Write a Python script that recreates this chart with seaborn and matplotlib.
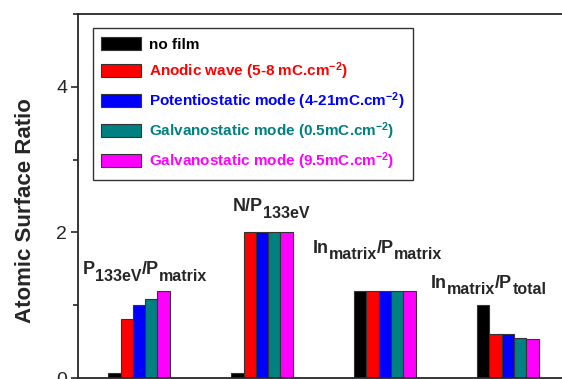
import pandas as pd
import numpy as np
import matplotlib.pyplot as plt
import seaborn as sns
from matplotlib.ticker import MultipleLocator

# ratios (x groups)
ratios = ['P133eV/Pmatrix', 'N/P133eV', 'Inmatrix/Pmatrix', 'Inmatrix/Ptotal']
# each label split into (text, is_subscript) pieces
ratio_pieces = [
    [('P', 0), ('133eV', 1), ('/P', 0), ('matrix', 1)],
    [('N/P', 0), ('133eV', 1)],
    [('In', 0), ('matrix', 1), ('/P', 0), ('matrix', 1)],
    [('In', 0), ('matrix', 1), ('/P', 0), ('total', 1)],
]

# film conditions (hue)
films = ['no film',
         'Anodic wave (5-8 mC.cm$^{-2}$)',
         'Potentiostatic mode (4-21mC.cm$^{-2}$)',
         'Galvanostatic mode (0.5mC.cm$^{-2}$)',
         'Galvanostatic mode (9.5mC.cm$^{-2}$)']
colors = ['#000000', '#ff0000', '#0000ff', '#008080', '#ff00ff']

no_film = [0.07, 0.07, 1.20, 1.00]
anodic = [0.81, 2.00, 1.20, 0.61]
potentio = [1.01, 2.00, 1.20, 0.60]
galv_05 = [1.09, 2.00, 1.20, 0.55]
galv_95 = [1.20, 2.00, 1.20, 0.53]
values = [no_film, anodic, potentio, galv_05, galv_95]

rows = []
for film, vals in zip(films, values):
    for r, v in zip(ratios, vals):
        rows.append({'ratio': r, 'film': film, 'value': v})
df = pd.DataFrame(rows)

sns.set_style('ticks')
plt.rcParams['font.family'] = ['Liberation Sans', 'DejaVu Sans']
plt.rcParams['mathtext.fontset'] = 'custom'
plt.rcParams['mathtext.rm'] = 'Liberation Sans:bold'
plt.rcParams['mathtext.bf'] = 'Liberation Sans:bold'
plt.rcParams['mathtext.default'] = 'bf'

fig = plt.figure(figsize=(5.62, 3.79), dpi=100)
ax = fig.add_axes([0.138, 0.0026, 0.875, 0.960])

sns.barplot(data=df, x='ratio', y='value', hue='film', order=ratios,
            hue_order=films, palette=colors, width=0.5, dodge=True,
            saturation=1, edgecolor='#333333', linewidth=0.8, ax=ax)

ax.set_xlim(-0.5, 3.5)
ax.set_ylim(0, 5)
ax.yaxis.set_major_locator(MultipleLocator(2))
ax.yaxis.set_minor_locator(MultipleLocator(1))
ax.tick_params(axis='y', which='major', length=5, width=1.2, labelsize=14,
               direction='out', pad=2.5)
ax.tick_params(axis='y', which='minor', length=3.5, width=1.2, direction='out')
ax.set_xticks([])
ax.set_xlabel('')
ax.set_ylabel('Atomic Surface Ratio', fontsize=16, fontweight='bold')
ax.yaxis.set_label_coords(-0.084, 0.459)
for s in ax.spines.values():
    s.set_linewidth(1.3)

# group labels: left edge and baseline in data coords
label_pos = [(-0.455, 1.43), (0.764, 2.29), (1.415, 1.72), (2.374, 1.24)]
for pieces, (x, y) in zip(ratio_pieces, label_pos):
    first = ax.text(x, y, pieces[0][0], ha='left', va='baseline',
                    fontsize=13, fontweight='bold', zorder=5)
    prev = first
    for txt, sub in pieces[1:]:
        prev = ax.annotate(txt, xy=(1, 0), xycoords=(prev, first),
                           xytext=(0, -4 if sub else 0), textcoords='offset points',
                           ha='left', va='bottom', fontsize=11.5 if sub else 13,
                           fontweight='bold', zorder=5)

leg = ax.legend(loc='upper left', bbox_to_anchor=(0.0315, 0.9615), borderaxespad=0,
                frameon=True, fancybox=False, edgecolor='#333333', framealpha=1,
                prop={'weight': 'bold', 'size': 11}, handlelength=2.6,
                handleheight=1.0, labelspacing=0.55, handletextpad=0.5,
                borderpad=0.55)
leg.get_frame().set_linewidth(1.0)
for t, c in zip(leg.get_texts(), colors):
    t.set_color(c)

fig.savefig('out.png', dpi=100)
